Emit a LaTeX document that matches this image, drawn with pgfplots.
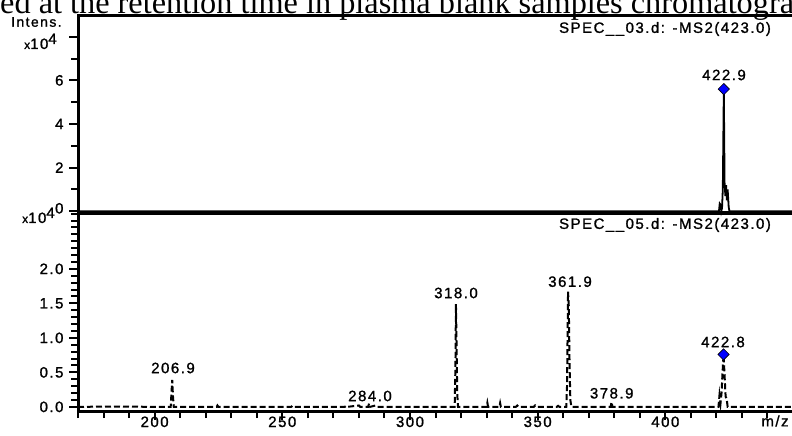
\documentclass[border=0pt]{standalone}
\usepackage{fontspec}
\setmainfont{Liberation Serif}
\newfontfamily\lab[LetterSpace=10, FakeBold=1.2]{Liberation Sans}
\usepackage{pgfplots}
\usepackage{pgfplotstable}
\pgfplotsset{compat=1.18}
\newcommand{\lf}{\lab\fontsize{15}{17}\selectfont}
\definecolor{dblue}{RGB}{0,0,255}

\pgfplotstableread{
x y
170 0
421.0 0
421.3 0.35
421.6 0.3
421.9 0
422.2 0.15
422.5 1.0
422.9 5.6
423.2 1.3
423.5 0.7
423.8 1.2
424.1 0.5
424.4 1.0
424.8 0.2
425.1 0
449.6 0
}\topspec

\pgfplotstableread{
x y
170 0
185 0.005
200 0
206.3 0
206.6 0.2
206.9 0.39
207.2 0.15
207.5 0
224.3 0
224.6 0.02
225 0
253.5 0
254 0.015
254.5 0
274.5 0
275 0.015
275.5 0
280 0.02
280.5 0
283.6 0
284.0 0.05
284.4 0
286.5 0.02
287 0
317.5 0
317.8 0.6
318.0 1.49
318.2 1.0
318.5 0.2
318.8 0
330.0 0
330.3 0.06
330.6 0
335.0 0
335.3 0.055
335.6 0
341.5 0
342 0.02
342.5 0
348.5 0
349 0.02
349.5 0
357.5 0
358 0.015
358.5 0
361.2 0
361.5 0.3
361.9 1.67
362.2 1.45
362.5 0.6
362.8 0.1
363.2 0
378.6 0
378.9 0.07
379.3 0
420.8 0
421.2 0.17
421.6 0.05
422.0 0.2
422.4 0.5
422.8 0.76
423.2 0.45
423.6 0.15
424.0 0.12
424.4 0
449.6 0
}\botspec

\begin{document}
\begin{tikzpicture}[x=1pt,y=1pt]
\pgfplotsset{
  every axis/.append style={
    scale only axis, width=714pt,
    xmin=170, xmax=449.6,
    axis line style={line width=3pt, line cap=rect},
    tick align=outside,
    major tick length=9pt, minor tick length=7pt,
    every tick/.style={black, line width=2pt},
    tick label style={font=\lf},
    yticklabel style={xshift=-2pt},
    xticklabel style={yshift=7pt},
    /pgf/number format/assume math mode=true,
    clip=false,
  }
}
% title fragment
\node[font=\fontsize{32.3}{36}\selectfont, anchor=base west, inner sep=0pt] at (0,422.5) {\llap{observ}ed at the retention time in plasma blank samples chromatograms};

\begin{axis}[at={(78pt,223pt)}, anchor=south west, height=197pt,
  ymin=-0.08, ymax=8.95,
  axis x line*=top, axis y line*=left, xtick=\empty,
  ytick={0,2,4,6,8}, yticklabels={\raisebox{6pt}{0},2,4,6,{}}, minor ytick={1,3,5,7},
]
\addplot[black, line width=1.8pt] table {\topspec};
\addplot[only marks, mark=square*, mark size=4pt, mark options={rotate=45, fill=dblue, draw=black, line width=0.6pt}] coordinates {(422.9,5.6)};
\end{axis}

\begin{axis}[at={(78pt,25pt)}, anchor=south west, height=198pt,
  ymin=-0.06, ymax=2.81,
  axis x line*=bottom, axis y line*=left,
  xtick={200,250,300,350,400}, minor xtick={170,180,...,440},
  ytick={0,0.5,1,1.5,2}, minor ytick={0.1,0.2,...,2.8},
  yticklabel style={/pgf/number format/.cd, fixed, fixed zerofill, precision=1},
]
\addplot[black, line width=2pt, dash pattern=on 6pt off 3pt] table {\botspec};
\addplot[only marks, mark=square*, mark size=4pt, mark options={rotate=45, fill=dblue, draw=black, line width=0.6pt, solid}] coordinates {(422.8,0.76)};
\end{axis}

% separator
\draw[line width=4pt] (78,223) -- (792,223);

% text labels
\node[font=\lf] at (665,407) {SPEC\_\_03.d: -MS2(423.0)};
\node[font=\lf] at (665,211) {SPEC\_\_05.d: -MS2(423.0)};
\node[font=\lf] at (724,361) {422.9};
\node[font=\lf] at (723,94) {422.8};
\node[font=\lf] at (173,68) {206.9};
\node[font=\lf] at (370,40) {284.0};
\node[font=\lf] at (456,143) {318.0};
\node[font=\lf] at (570,154.3) {361.9};
\node[font=\lf] at (611.7,42.7) {378.9};
\node[font=\lf] at (775,15) {m/z};
\node[font=\lab\fontsize{14}{16}\selectfont, anchor=west, inner sep=0pt] at (11,414) {Intens.};
\node[font=\lf, anchor=base west, inner sep=0pt] at (24,387) {{\fontsize{12}{13}\selectfont x}10\raisebox{5pt}{4}};
\node[font=\lf, anchor=base west, inner sep=0pt] at (22,213) {{\fontsize{12}{13}\selectfont x}10\raisebox{5pt}{4}};

\pgfresetboundingbox
\useasboundingbox (0,0) rectangle (792,436);
\end{tikzpicture}
\end{document}
